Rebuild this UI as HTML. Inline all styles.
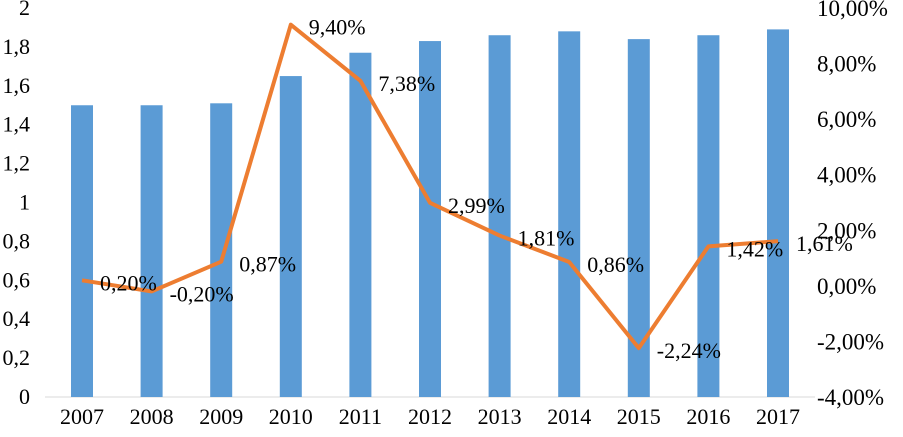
<!DOCTYPE html>
<html><head><meta charset="utf-8"><style>
body{margin:0;background:#fff}
svg text{font-family:"Liberation Serif",serif;font-size:22px;fill:#000}
svg text.rt{font-size:23px}
</style></head><body>
<svg id="chart" width="903" height="432"></svg>
<script>
const categories=["2007","2008","2009","2010","2011","2012","2013","2014","2015","2016","2017"];
const barValues=[1.5,1.5,1.51,1.65,1.77,1.83,1.86,1.88,1.84,1.86,1.89];
const lineValues=[0.20,-0.20,0.87,9.40,7.38,2.99,1.81,0.86,-2.24,1.42,1.61];
const lineLabels=["0,20%","-0,20%","0,87%","9,40%","7,38%","2,99%","1,81%","0,86%","-2,24%","1,42%","1,61%"];
const leftTicks=[0,0.2,0.4,0.6,0.8,1,1.2,1.4,1.6,1.8,2];
const leftTickLabels=["0","0,2","0,4","0,6","0,8","1","1,2","1,4","1,6","1,8","2"];
const rightTicks=[-4,-2,0,2,4,6,8,10];
const rightTickLabels=["-4,00%","-2,00%","0,00%","2,00%","4,00%","6,00%","8,00%","10,00%"];
const NS="http://www.w3.org/2000/svg";
const svgEl=document.getElementById('chart');
const plotTop=8,plotBot=397,x0=82,step=69.6;
const yL=v=>plotBot-(v/2)*(plotBot-plotTop);
const yR=v=>plotBot-((v+4)/14)*(plotBot-plotTop);
const xC=i=>x0+i*step;
function mk(t,a,txt){const e=document.createElementNS(NS,t);for(const k in a)e.setAttribute(k,a[k]);if(txt!==undefined)e.textContent=txt;svgEl.appendChild(e);return e;}
let ax=mk('line',{x1:45,x2:815,y1:plotBot,y2:plotBot,stroke:'#d9d9d9','stroke-width':1});


leftTicks.forEach((v,i)=>{const t=mk('text',{x:30,y:yL(v)+7,'text-anchor':'end'},leftTickLabels[i]);

});
rightTicks.forEach((v,i)=>{const t=mk('text',{x:817,y:yR(v)+8,'text-anchor':'start','class':'rt'},rightTickLabels[i]);

});
categories.forEach((c,i)=>{
const b=mk('rect',{x:xC(i)-11,y:yL(barValues[i]),width:22,height:plotBot-yL(barValues[i]),fill:'#5b9bd5'});


const t=mk('text',{x:xC(i),y:424,'text-anchor':'middle'},c);

});
const pts=lineValues.map((v,i)=>xC(i)+','+yR(v)).join(' ');
const pl=mk('polyline',{points:pts,fill:'none',stroke:'#ed7d31','stroke-width':4,'stroke-linejoin':'round'});


lineValues.forEach((v,i)=>{const t=mk('text',{x:xC(i)+18,y:yR(v)+10},lineLabels[i]);

});
</script>
</body></html>
